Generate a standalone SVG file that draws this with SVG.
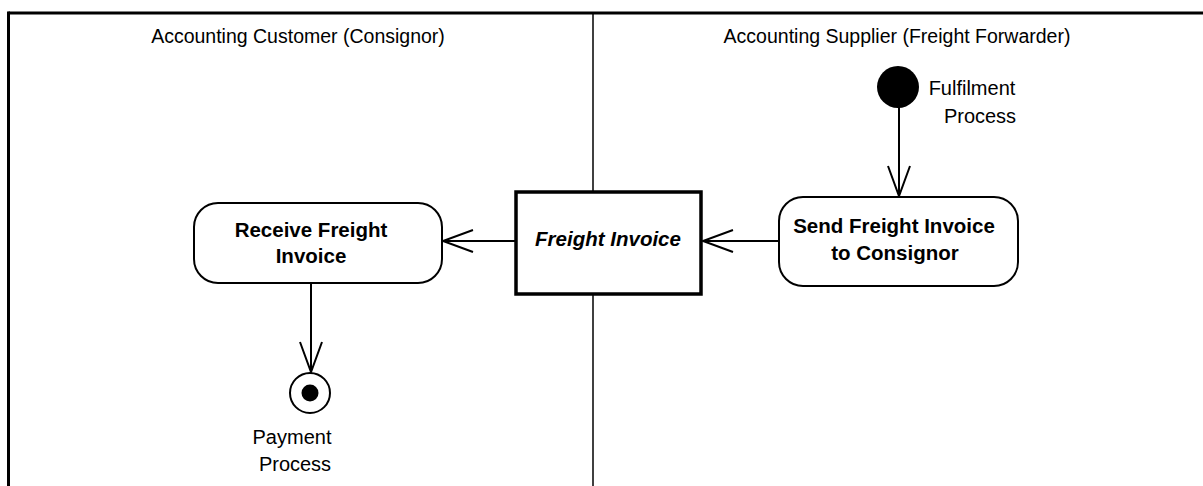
<svg xmlns="http://www.w3.org/2000/svg" width="1203" height="486" viewBox="0 0 1203 486">
<defs>
<style>
.lane{stroke:#000;fill:none}
.title{font-family:"Liberation Sans",Arial,sans-serif;font-size:19.5px;fill:#000}
.lbl{font-family:"Liberation Sans",Arial,sans-serif;font-size:20px;fill:#000;text-anchor:middle}
.act{fill:#fff;stroke:#000;stroke-width:2}
.actt{font-family:"Liberation Sans",Arial,sans-serif;font-size:20.5px;font-weight:bold;fill:#000;text-anchor:middle}
.edge{stroke:#000;stroke-width:2;fill:none}
</style>
<marker id="open" markerUnits="userSpaceOnUse" markerWidth="34" markerHeight="28" refX="31" refY="12" orient="auto" viewBox="0 0 34 24">
<path d="M1,1 L31,12 L1,23" fill="none" stroke="#000" stroke-width="2"/>
</marker>
</defs>
<rect width="1203" height="486" fill="#fff"/>
<g id="swimlanes">
<line class="lane" x1="8.5" y1="13" x2="1203" y2="13" stroke-width="3"/>
<line class="lane" x1="8.5" y1="11.5" x2="8.5" y2="486" stroke-width="3"/>
<line class="lane" x1="593" y1="13" x2="593" y2="486" stroke-width="1.5"/>
<text class="title" x="298" y="43" text-anchor="middle">Accounting Customer (Consignor)</text>
<text class="title" x="897" y="43" text-anchor="middle">Accounting Supplier (Freight Forwarder)</text>
</g>
<g id="connectors">
<line class="edge" x1="899" y1="107" x2="899" y2="196" marker-end="url(#open)"/>
<line class="edge" x1="779" y1="241" x2="703" y2="241" marker-end="url(#open)"/>
<line class="edge" x1="515" y1="241" x2="443" y2="241" marker-end="url(#open)"/>
<line class="edge" x1="311" y1="283" x2="311" y2="372" marker-end="url(#open)"/>
</g>
<g id="start">
<circle cx="898" cy="87" r="21" fill="#000"/>
<text class="lbl" x="972" y="95">Fulfilment</text>
<text class="lbl" x="980" y="123">Process</text>
</g>
<g id="send">
<rect class="act" x="779" y="197" width="239" height="89" rx="24" ry="24"/>
<text class="actt" x="894" y="233">Send Freight Invoice</text>
<text class="actt" x="895" y="260">to Consignor</text>
</g>
<g id="invoice">
<rect x="516" y="192" width="185" height="102" fill="#fff" stroke="#000" stroke-width="3.5"/>
<text class="actt" x="608" y="246" font-style="italic">Freight Invoice</text>
</g>
<g id="receive">
<rect class="act" x="194" y="203" width="248" height="80" rx="24" ry="24"/>
<text class="actt" x="311" y="237">Receive Freight</text>
<text class="actt" x="311" y="263">Invoice</text>
</g>
<g id="end">
<circle cx="310" cy="393" r="20" fill="#fff" stroke="#000" stroke-width="2"/>
<circle cx="310" cy="393" r="8.5" fill="#000"/>
<text class="lbl" x="292" y="444">Payment</text>
<text class="lbl" x="295" y="471">Process</text>
</g>
</svg>
